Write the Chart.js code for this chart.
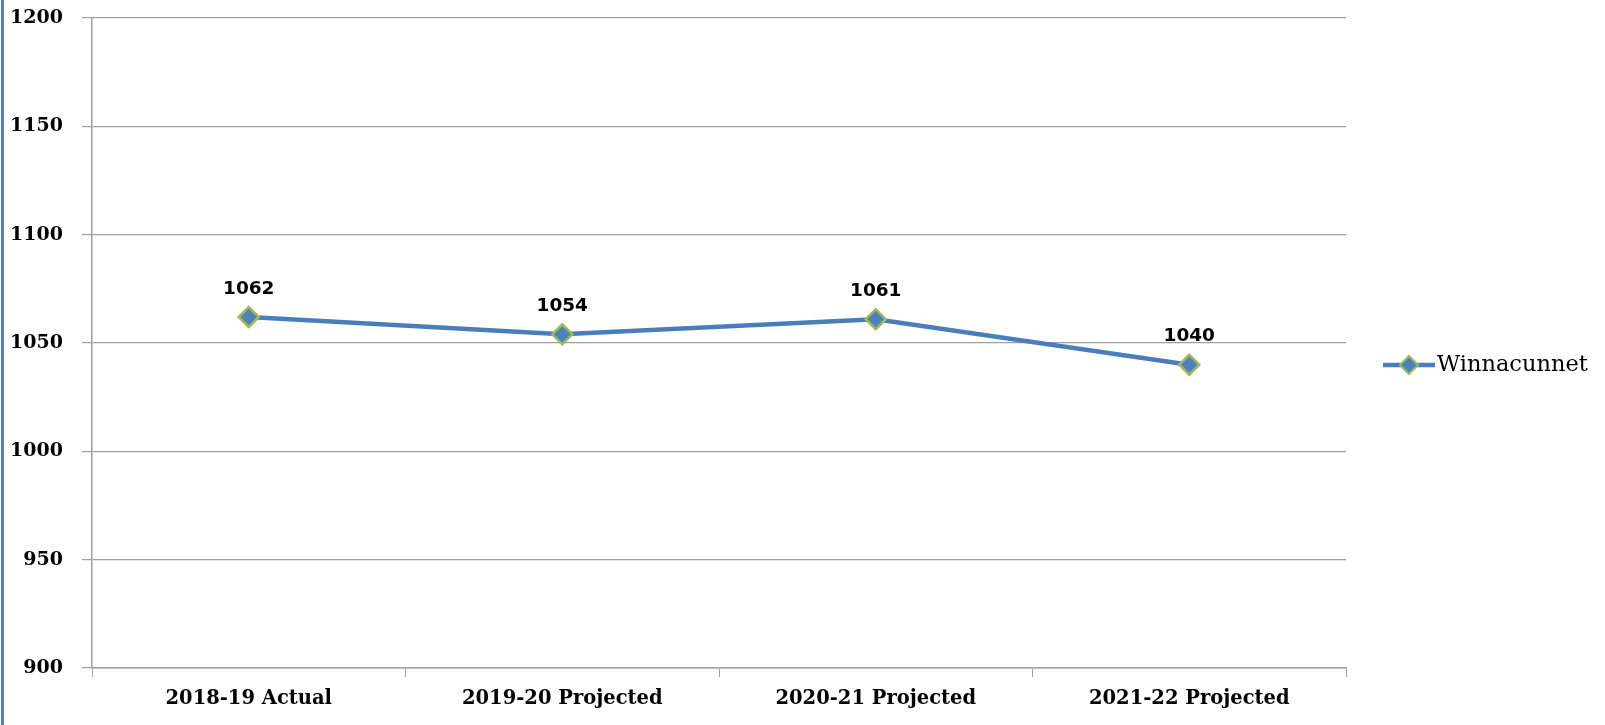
<!DOCTYPE html>
<html>
<head>
<meta charset="utf-8">
<script src="https://cdn.jsdelivr.net/npm/chart.js@4"></script>
<style>
  html, body { margin: 0; padding: 0; background: #fff; }
  #wrap { width: 1605px; height: 725px; position: relative; }
</style>
</head>
<body>
<div id="wrap"><canvas id="chart"></canvas></div>
<script>
const anos = ["2018-19 Actual", "2019-20 Projected", "2020-21 Projected", "2021-22 Projected"];
const matriculas = [1062, 1054, 1061, 1040];
const serie = "Winnacunnet";

const azul = "#4a7ebb";
const verde = "#9bbb59";

// rótulos de dados acima dos pontos
const rotulos = {
  id: "rotulos",
  afterDatasetsDraw(chart) {
    const ctx = chart.ctx;
    const meta = chart.getDatasetMeta(0);
    ctx.save();
    ctx.font = "bold 18.5px 'DejaVu Sans'";
    ctx.fillStyle = "#000";
    ctx.textAlign = "center";
    ctx.textBaseline = "middle";
    meta.data.forEach((p, i) => {
      ctx.fillText(String(matriculas[i]), p.x, p.y - 28);
    });
    ctx.restore();
  },
};

// legenda à direita + borda azul à esquerda
const extras = {
  id: "extras",
  afterDraw(chart) {
    const ctx = chart.ctx;
    ctx.save();
    ctx.fillStyle = "#4f81bd";
    ctx.fillRect(1, 0, 3, chart.height);

    const y = 365;
    ctx.strokeStyle = azul;
    ctx.lineWidth = 4.5;
    ctx.beginPath();
    ctx.moveTo(1383, y);
    ctx.lineTo(1435, y);
    ctx.stroke();
    const cx = 1409, r = 9;
    ctx.beginPath();
    ctx.moveTo(cx, y - r);
    ctx.lineTo(cx + r, y);
    ctx.lineTo(cx, y + r);
    ctx.lineTo(cx - r, y);
    ctx.closePath();
    ctx.fillStyle = "#4f81bd";
    ctx.fill();
    ctx.strokeStyle = verde;
    ctx.lineWidth = 2;
    ctx.stroke();

    ctx.font = "22.5px 'DejaVu Serif'";
    ctx.fillStyle = "#000";
    ctx.textAlign = "left";
    ctx.textBaseline = "middle";
    ctx.fillText(serie, 1437, y);
    ctx.restore();
  },
};

new Chart(document.getElementById("chart"), {
  type: "line",
  data: {
    labels: anos,
    datasets: [
      {
        label: serie,
        data: matriculas,
        borderColor: azul,
        borderWidth: 4.5,
        tension: 0,
        pointStyle: "rectRot",
        pointRadius: 10,
        pointHoverRadius: 10,
        pointBackgroundColor: "#4f81bd",
        pointBorderColor: verde,
        pointBorderWidth: 2.5,
      },
    ],
  },
  options: {
    responsive: true,
    maintainAspectRatio: false,
    animation: false,
    layout: { padding: { top: 18, right: 259, left: 0, bottom: 0 } },
    plugins: {
      legend: { display: false },
      tooltip: { enabled: false },
    },
    scales: {
      x: {
        offset: true,
        grid: {
          offset: true,
          drawOnChartArea: false,
          drawTicks: true,
          tickLength: 9,
          color: "#a0a0a0",
        },
        border: { color: "#a0a0a0", width: 1.5 },
        ticks: {
          color: "#000",
          font: { family: "'DejaVu Serif'", size: 19.5, weight: "bold" },
          padding: 10,
          maxRotation: 0,
        },
        afterFit(s) {
          s.height = 57;
          s.paddingLeft = 0;
          s.paddingRight = 0;
        },
      },
      y: {
        min: 900,
        max: 1200,
        grid: { color: "#a0a0a0", lineWidth: 1.2, tickLength: 10 },
        border: { color: "#a0a0a0", width: 1.5 },
        ticks: {
          stepSize: 50,
          color: "#000",
          font: { family: "'DejaVu Serif'", size: 19, weight: "bold" },
          padding: 19,
          callback: (v) => String(v),
        },
        afterFit(s) {
          s.width = 92;
          s.paddingTop = 0;
          s.paddingBottom = 0;
        },
      },
    },
  },
  plugins: [rotulos, extras],
});
</script>
</body>
</html>
